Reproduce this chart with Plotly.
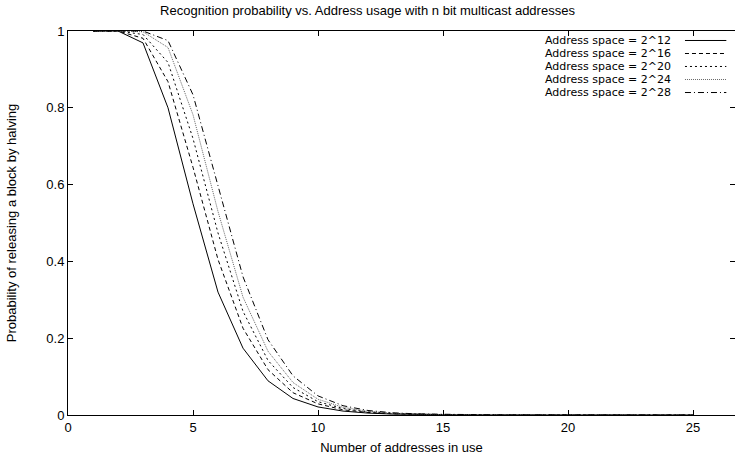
import plotly.graph_objects as go

# Number of addresses in use
x_vals = list(range(1, 26))

# Probability of releasing a block by halving, one list per address space
p_2_12 = [1.0, 1.0, 0.969, 0.80, 0.55, 0.32, 0.174, 0.089, 0.043, 0.021, 0.0102, 0.005, 0.0024, 0.0012, 0.0006,
          0.0003, 0.00015, 0.00008, 0.00004, 0.00002, 0.00001, 0.0, 0.0, 0.0, 0.0]
p_2_16 = [1.0, 1.0, 0.981, 0.868, 0.645, 0.405, 0.226, 0.118, 0.058, 0.029, 0.0136, 0.0066, 0.0032, 0.0016, 0.0008,
          0.0004, 0.0002, 0.0001, 0.00005, 0.00003, 0.00001, 0.0, 0.0, 0.0, 0.0]
p_2_20 = [1.0, 1.0, 0.991, 0.918, 0.72, 0.474, 0.27, 0.142, 0.0716, 0.0347, 0.0169, 0.0082, 0.004, 0.002, 0.001,
          0.0005, 0.00025, 0.00012, 0.00006, 0.00003, 0.00002, 0.0, 0.0, 0.0, 0.0]
p_2_24 = [1.0, 1.0, 0.998, 0.957, 0.782, 0.53, 0.307, 0.166, 0.0846, 0.041, 0.020, 0.0097, 0.0047, 0.0023, 0.0011,
          0.00055, 0.00027, 0.00014, 0.00007, 0.00003, 0.00002, 0.0, 0.0, 0.0, 0.0]
p_2_28 = [1.0, 1.0, 1.0, 0.975, 0.834, 0.597, 0.36, 0.196, 0.102, 0.0498, 0.0242, 0.0118, 0.0057, 0.0028, 0.0014,
          0.0007, 0.00035, 0.00017, 0.00008, 0.00004, 0.00002, 0.0, 0.0, 0.0, 0.0]

series_names = ["Address space = 2^12", "Address space = 2^16", "Address space = 2^20",
                "Address space = 2^24", "Address space = 2^28"]
series_values = [p_2_12, p_2_16, p_2_20, p_2_24, p_2_28]

x_ticks = [0, 5, 10, 15, 20, 25]
y_ticks = [0, 0.2, 0.4, 0.6, 0.8, 1]
y_tick_labels = ["0", "0.2", "0.4", "0.6", "0.8", "1"]

styles = [
    dict(color="#000000", dash="solid"),
    dict(color="#000000", dash="4px,3px"),
    dict(color="#000000", dash="2px,3px"),
    dict(color="#666666", dash="1px,1px"),
    dict(color="#000000", dash="6px,3px,1px,3px"),
]

FONT = "Liberation Sans, Arial, sans-serif"
LEG_FONT = "DejaVu Sans, sans-serif"

fig = go.Figure()
for name, vals, st in zip(series_names, series_values, styles):
    fig.add_trace(go.Scatter(
        x=x_vals, y=vals, mode="lines", name=name,
        line=dict(color=st["color"], dash=st["dash"], width=1),
        showlegend=False,
    ))

# manual legend (text left of sample, like gnuplot)
leg_y = [0.9753, 0.9414, 0.9076, 0.8737, 0.8398]
for name, st, yy in zip(series_names, styles, leg_y):
    fig.add_annotation(x=0.907, y=yy, xref="paper", yref="paper", text=name,
                       showarrow=False, xanchor="right", yanchor="middle",
                       font=dict(family=LEG_FONT, size=11, color="#000"))
    fig.add_shape(type="line", xref="paper", yref="paper", x0=0.925, x1=0.987, y0=yy, y1=yy,
                  line=dict(color=st["color"], dash=st["dash"], width=1))

axis_common = dict(
    showgrid=False, zeroline=False, showline=True, linecolor="#000", linewidth=1,
    ticks="inside", ticklen=5, tickcolor="#000", mirror="ticks",
    tickfont=dict(family=FONT, size=13, color="#000"),
)

fig.update_xaxes(range=[0, 26.68], tickvals=x_ticks,
                 title=dict(text="Number of addresses in use", standoff=9,
                            font=dict(family=FONT, size=13, color="#000")),
                 **axis_common)
fig.update_yaxes(range=[0, 1], tickvals=y_ticks, ticktext=y_tick_labels,
                 title=dict(text="Probability of releasing a block by halving", standoff=26,
                            font=dict(family=FONT, size=13, color="#000")),
                 **axis_common)

fig.update_layout(
    width=735, height=455,
    margin=dict(l=68, r=0, t=31, b=40),
    plot_bgcolor="#fff", paper_bgcolor="#fff",
    title=dict(text="Recognition probability vs. Address usage with n bit multicast addresses",
               x=0.5, xanchor="center", y=1 - 10 / 455, yanchor="middle", yref="container",
               font=dict(family=FONT, size=13, color="#000")),
)

fig.write_html("out.html")
